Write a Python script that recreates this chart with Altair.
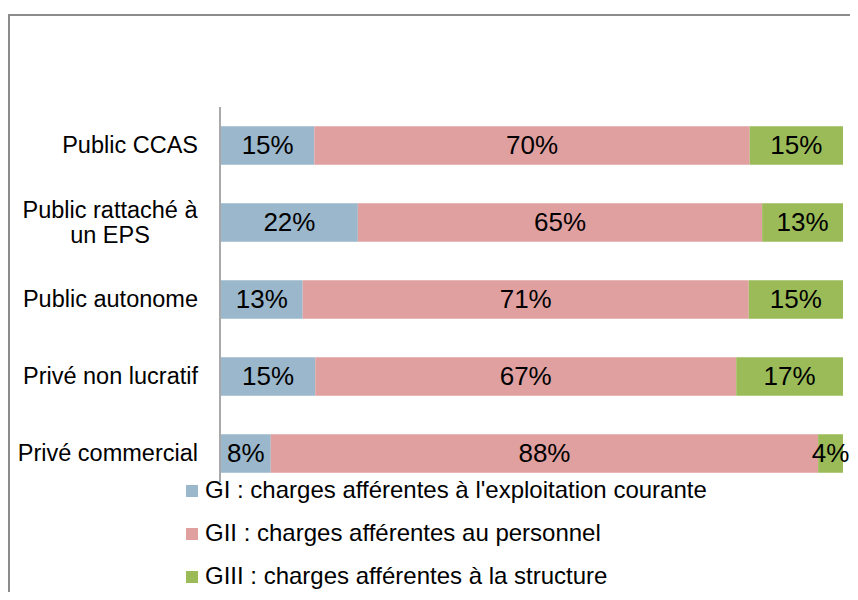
import altair as alt
import pandas as pd

categories = ["Public CCAS", "Public rattaché à un EPS", "Public autonome",
              "Privé non lucratif", "Privé commercial"]
display_labels = ["Public CCAS", "Public rattaché à\nun EPS", "Public autonome",
                  "Privé non lucratif", "Privé commercial"]
series = ["GI : charges afférentes à l'exploitation courante",
          "GII : charges afférentes au personnel",
          "GIII : charges afférentes à la structure"]
gi = [15, 22, 13, 15, 8]
gii = [70, 65, 71, 67, 88]
giii = [15, 13, 15, 17, 4]
colors = ["#9BB7CB", "#E0A0A0", "#9BBB59"]

rows = []
for i, c in enumerate(categories):
    for k, vals in enumerate([gi, gii, giii]):
        rows.append({"cat": c, "series": series[k], "order": k,
                     "value": vals[i], "label": f"{vals[i]}%"})
df = pd.DataFrame(rows)
lab_df = pd.DataFrame({"cat": categories, "disp": display_labels})

FONT = "Liberation Sans"
yscale = alt.Scale(domain=categories, paddingInner=0.5, paddingOuter=0.25)
xscale = alt.Scale(domain=[0, 1])

base = (alt.Chart(df)
        .transform_joinaggregate(total="sum(value)", groupby=["cat"])
        .transform_calculate(frac="datum.value / datum.total")
        .transform_stack(stack="frac", groupby=["cat"], as_=["x0", "x1"],
                         sort=[alt.SortField("order", order="ascending")])
        .transform_calculate(mid="(datum.x0 + datum.x1) / 2"))

bars = base.mark_bar().encode(
    y=alt.Y("cat:N", scale=yscale, axis=None),
    x=alt.X("x0:Q", scale=xscale, axis=None),
    x2="x1:Q",
    color=alt.Color("series:N", scale=alt.Scale(domain=series, range=colors),
                    legend=alt.Legend(orient="none", legendX=-41, legendY=372,
                                      title=None, symbolType="square",
                                      symbolSize=144, symbolStrokeWidth=0,
                                      labelFont=FONT, labelFontSize=24,
                                      labelColor="black", labelLimit=800,
                                      rowPadding=19, labelOffset=1, padding=0)),
)

seg_text = base.mark_text(font=FONT, fontSize=26, color="black",
                          align="center", baseline="middle").encode(
    y=alt.Y("cat:N", scale=yscale, axis=None),
    x=alt.X("mid:Q", scale=xscale, axis=None),
    text="label:N",
)

single = alt.Chart(lab_df).transform_filter(
    "indexof(datum.disp, '\\n') < 0").mark_text(
    font=FONT, fontSize=23.5, color="black", align="right", baseline="middle").encode(
    y=alt.Y("cat:N", scale=yscale, axis=None),
    x=alt.value(-23),
    text="disp:N",
)
multi = alt.Chart(lab_df).transform_filter(
    "indexof(datum.disp, '\\n') >= 0").mark_text(
    font=FONT, fontSize=23.5, color="black", align="center", baseline="middle",
    lineBreak="\n", lineHeight=25, dy=-12).encode(
    y=alt.Y("cat:N", scale=yscale, axis=None),
    x=alt.value(-111),
    text="disp:N",
)

one = pd.DataFrame({"a": [0]})
frame = alt.Chart(one).mark_rect(fill="transparent", stroke="#8c8c8c",
                                 strokeWidth=2).encode(
    x=alt.value(-212), x2=alt.value(1000), y=alt.value(-92), y2=alt.value(1000))
axis_line = alt.Chart(one).mark_rule(color="#8c8c8c", strokeWidth=1.5).encode(
    x=alt.value(-1), y=alt.value(0), y2=alt.value(375))

chart = alt.layer(frame, bars, seg_text, single, multi, axis_line).properties(
    width=622, height=385,
    autosize=alt.AutoSizeParams(type="none"),
    padding={"left": 213, "top": 99, "right": 7, "bottom": 100},
    background="white",
).configure_view(stroke=None)

chart.save("out.html", embed_options={"renderer": "svg", "actions": False})
